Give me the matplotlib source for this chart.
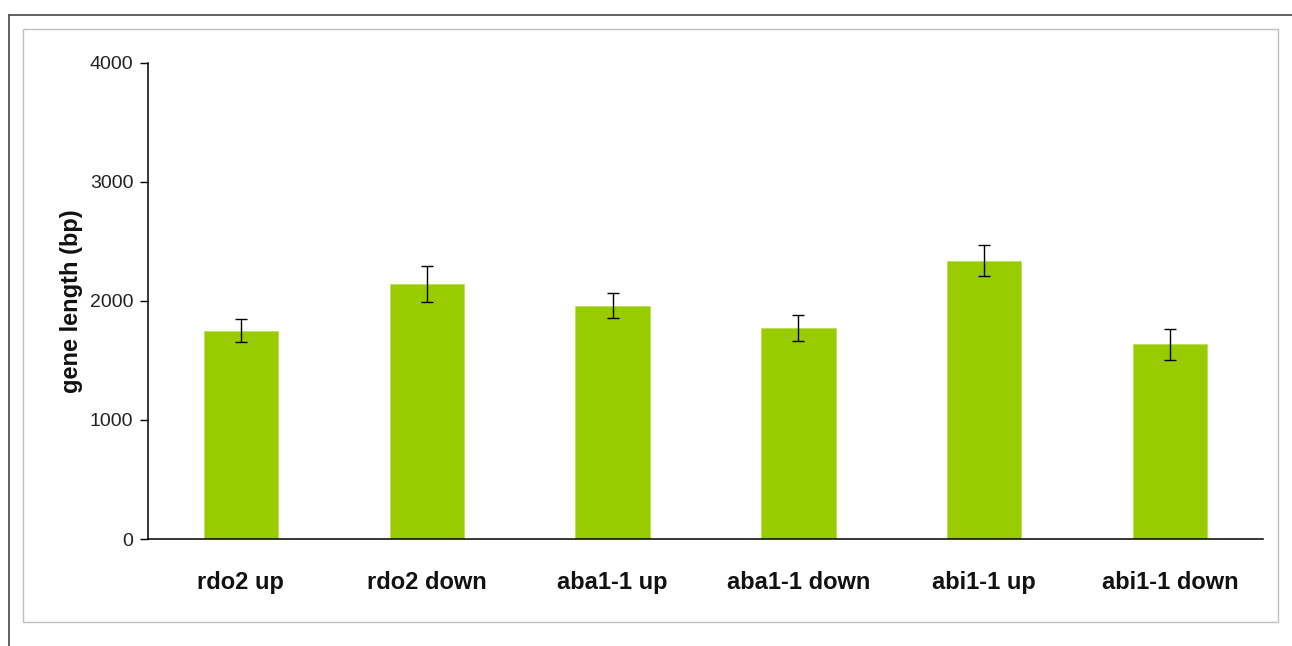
import matplotlib
matplotlib.use("Agg")
import matplotlib.pyplot as plt
from matplotlib.lines import Line2D
from matplotlib.patches import Rectangle

# Mean gene length per differentially expressed gene set
categories = ["rdo2 up", "rdo2 down", "aba1-1 up", "aba1-1 down", "abi1-1 up", "abi1-1 down"]
mean_length = [1750, 2140, 1960, 1775, 2340, 1635]
std_error = [95, 150, 105, 110, 130, 130]
y_ticks = [0, 1000, 2000, 3000, 4000]

plt.rcParams["font.family"] = ["Liberation Sans", "DejaVu Sans"]

W, H = 1292, 646
fig = plt.figure(figsize=(W / 100, H / 100), dpi=100)
fig.patch.set_facecolor("white")

# Outer frame (top and left edges) and inner chart-area border
fig.add_artist(Line2D([9 / W, 1.0], [1 - 14.5 / H, 1 - 14.5 / H], color="#555555", lw=1.3,
                      transform=fig.transFigure))
fig.add_artist(Line2D([9 / W, 9 / W], [0.0, 1 - 14.5 / H], color="#555555", lw=1.3,
                      transform=fig.transFigure))
fig.add_artist(Rectangle((23 / W, 1 - 622 / H), (1278 - 23) / W, (622 - 29) / H,
                         fill=False, edgecolor="#c0c0c0", lw=1.0, transform=fig.transFigure))

ax = fig.add_axes([148 / W, 1 - 539 / H, (1263 - 148) / W, (539 - 63) / H])
x = range(len(categories))
ax.bar(x, mean_length, width=0.4, color="#99cc00", edgecolor="#b8e05a", linewidth=0.6,
       yerr=std_error, error_kw=dict(ecolor="black", elinewidth=1.0, capsize=4, capthick=1.0))

ax.set_xlim(-0.5, len(categories) - 0.5)
ax.set_ylim(0, 4000)
ax.set_yticks(y_ticks)
ax.set_yticklabels([str(v) for v in y_ticks], fontsize=14, color="#222222")
ax.set_xticks(list(x))
ax.set_xticklabels(categories, fontsize=17, fontweight="bold", color="#111111")
ax.tick_params(axis="x", length=0, pad=23)
ax.tick_params(axis="y", length=6, width=1, direction="out", pad=4.5)
ax.set_ylabel("gene length (bp)", fontsize=17, fontweight="bold", labelpad=5, color="#111111")

for side in ("top", "right"):
    ax.spines[side].set_visible(False)
ax.spines["left"].set_linewidth(1.1)
ax.spines["bottom"].set_linewidth(1.1)

fig.savefig("out.png", dpi=100)
